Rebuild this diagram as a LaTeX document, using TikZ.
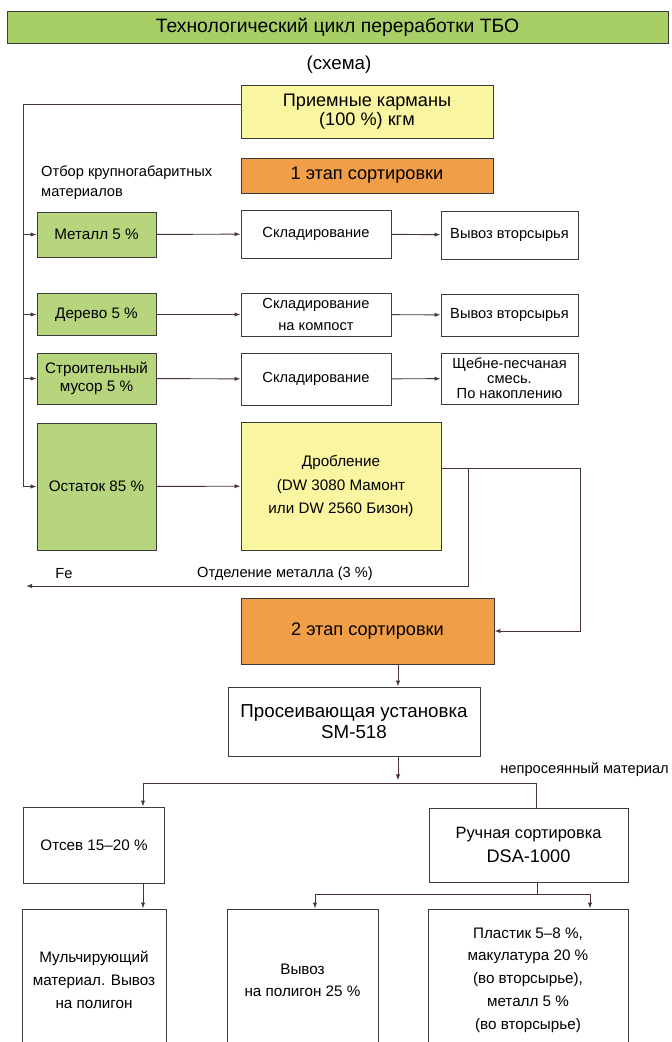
\documentclass[tikz,border=0pt]{standalone}
\usepackage{fontspec}
\setmainfont{Liberation Sans}
\usetikzlibrary{arrows.meta,calc}
\definecolor{headgreen}{RGB}{168,207,102}
\definecolor{fracgreen}{RGB}{183,213,125}
\definecolor{paleyellow}{RGB}{250,245,160}
\definecolor{sortorange}{RGB}{240,158,72}
\definecolor{edgegray}{RGB}{60,60,60}
\definecolor{wiregray}{RGB}{72,52,50}
\tikzset{
  wire/.style={wiregray,line width=0.8pt},
  flow/.style={wire,-{Latex[length=1.8mm,width=1.3mm]}},
  box/.style={draw=edgegray,line width=0.8pt,fill=white,inner sep=0pt,align=center,
              font=\fontsize{12.5}{15}\selectfont},
  fraction/.style={box,fill=fracgreen,minimum width=3.57cm,font=\fontsize{13}{15.5}\selectfont},
  storebox/.style={box,minimum width=4.5cm},
  exportbox/.style={box,minimum width=4.11cm},
  stagebox/.style={box,fill=sortorange,font=\fontsize{15.5}{17}\selectfont},
  lab/.style={font=\fontsize{12.5}{15}\selectfont,inner sep=0pt},
}

\begin{document}
\begin{tikzpicture}[x=0.03cm,y=-0.03cm]
  \path[use as bounding box] (0,0) rectangle (671,1042);
  \clip (0,0) rectangle (671,1042);

  \node[box,fill=headgreen,minimum width=19.83cm,minimum height=0.96cm,
        font=\fontsize{16.5}{19}\selectfont] (title) at (337.5,27)
    {Технологический цикл переработки ТБО};
  \node[lab,font=\fontsize{16}{19}\selectfont] (scheme) at (339,65) {(схема)};

  \node[box,fill=paleyellow,minimum width=7.56cm,minimum height=1.59cm,
        font=\fontsize{15.5}{16.2}\selectfont] (recv) at (367,111.5)
    {Приемные карманы\\(100 \%) кгм};
  \node[lab,anchor=west,align=left,font=\fontsize{12.5}{17}\selectfont] (pick) at (41,183)
    {Отбор крупногабаритных\\материалов};
  \node[stagebox,minimum width=7.56cm,minimum height=1.05cm] (sort1) at (367,175.5)
    {1 этап сортировки};

  % first sorting stage
  \node[fraction,minimum height=1.35cm] (metal) at (96.5,234.5) {Металл 5 \%};
  \node[storebox,minimum height=1.44cm] (store1) at (316,234) {Складирование};
  \node[exportbox,minimum height=1.44cm] (export1) at (509.5,235) {Вывоз вторсырья};

  \node[fraction,minimum height=1.26cm] (wood) at (96.5,314.5) {Дерево 5 \%};
  \node[storebox,minimum height=1.29cm,font=\fontsize{12.5}{18.7}\selectfont] (store2) at (316,314.5)
    {Складирование\\на компост};
  \node[exportbox,minimum height=1.26cm] (export2) at (509.5,315) {Вывоз вторсырья};

  \node[fraction,minimum height=1.53cm] (build) at (96.5,378.5) {Строительный\\мусор 5 \%};
  \node[storebox,minimum height=1.56cm] (store3) at (316,379) {Складирование};
  \node[exportbox,minimum height=1.53cm,font=\fontsize{12.5}{12.8}\selectfont] (gravel) at (509.5,378.5)
    {Щебне-песчаная\\смесь.\\По накоплению};

  \node[fraction,minimum height=3.81cm] (rest) at (96.5,486.5) {Остаток 85 \%};
  \node[box,fill=paleyellow,minimum width=6cm,minimum height=3.84cm,
        font=\fontsize{13}{20.4}\selectfont] (crush) at (341,486)
    {Дробление\\(DW 3080 Мамонт\\или DW 2560 Бизон)};

  \coordinate (trunk) at (23.5,104);
  \draw[flow] (recv.west |- trunk) -- (trunk) |- (rest.west);
  \foreach \f in {metal,wood,build}
    \draw[flow] (trunk |- \f.west) -- (\f.west);
  \draw[flow] (metal) -- (store1);
  \draw[flow] (store1) -- (export1);
  \draw[flow] (wood) -- (store2);
  \draw[flow] (store2) -- (export2);
  \draw[flow] (build) -- (store3);
  \draw[flow] (store3) -- (gravel);
  \draw[flow] (rest) -- (crush);

  % metal separation and second stage
  \node[stagebox,minimum width=7.59cm,minimum height=1.98cm] (sort2) at (367.5,631)
    {2 этап сортировки};
  \coordinate (split) at (468,468);
  \coordinate (loop) at (580,468);
  \coordinate (fe) at (26,586);
  \draw[flow] (crush.east |- split) -- (loop) |- (sort2.east);
  \draw[flow] (split) |- (fe);
  \node[lab] (felab) at (64,574) {Fe};
  \node[lab] (sep) at (285,574) {Отделение металла (3 \%)};

  \node[box,minimum width=7.56cm,minimum height=2.07cm,
        font=\fontsize{16}{17.9}\selectfont] (sieve) at (354,721.5)
    {Просеивающая установка\\SM-518};
  \coordinate (drop) at (398,783);
  \coordinate (forkL) at (143,783);
  \coordinate (forkR) at (536,783);
  \draw[flow] (sort2.south -| drop) -- (sieve.north -| drop);
  \draw[flow] (sieve.south -| drop) -- ([yshift=0.08cm]drop);
  \node[lab,anchor=east] (unsift) at (669,770) {непросеянный материал};

  \node[box,minimum width=4.23cm,minimum height=2.28cm,
        font=\fontsize{13}{15.5}\selectfont] (sift) at (94,845) {Отсев 15--20 \%};
  \node[box,minimum width=5.97cm,minimum height=2.22cm,
        font=\fontsize{14}{21}\selectfont] (hand) at (528.5,845)
    {Ручная сортировка\\{\fontsize{15.5}{21}\selectfont DSA-1000}};
  \draw[wire] (forkL) -- (forkR) -- (hand.north -| forkR);
  \draw[flow] (forkL) -- (sift.north -| forkL);

  % final fractions
  \node[box,minimum width=4.32cm,minimum height=4.26cm,
        font=\fontsize{13}{19.5}\selectfont] (mulch) at (94,980)
    {Мульчирующий\\материал. Вывоз\\на полигон};
  \node[box,minimum width=4.53cm,minimum height=4.26cm,
        font=\fontsize{13}{18.7}\selectfont] (dump) at (302.5,980)
    {Вывоз\\на полигон 25 \%};
  \node[box,minimum width=6cm,minimum height=4.26cm,
        font=\fontsize{13}{19.5}\selectfont] (plastic) at (528,980)
    {Пластик 5--8 \%,\\макулатура 20 \%\\(во вторсырье),\\металл 5 \%\\(во вторсырье)};

  \coordinate (hub) at (537,894);
  \coordinate (hubL) at (315,894);
  \coordinate (hubR) at (590,894);
  \draw[flow] (sift.south -| forkL) -- (mulch.north -| forkL);
  \draw[wire] (hand.south -| hub) -- (hub);
  \draw[wire] (hubL) -- (hubR);
  \draw[flow] (hubL) -- (dump.north -| hubL);
  \draw[flow] (hubR) -- (plastic.north -| hubR);
\end{tikzpicture}
\end{document}
